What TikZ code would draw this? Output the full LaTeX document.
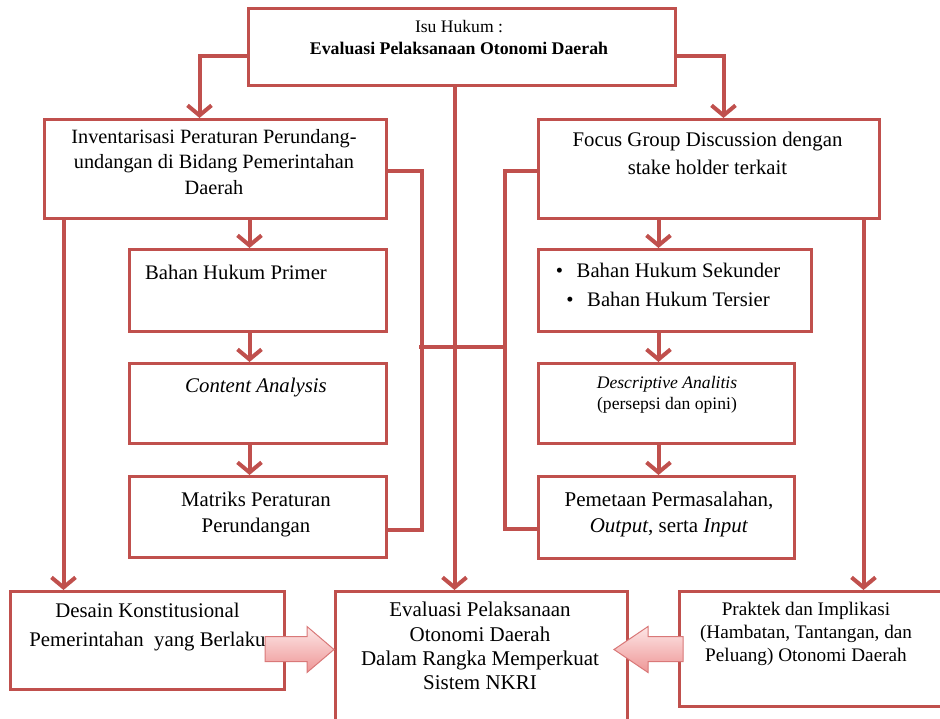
\documentclass[tikz,border=0pt]{standalone}
\usepackage{fontspec}
\setmainfont{Liberation Serif}
\usetikzlibrary{arrows.meta,calc}
\definecolor{linered}{HTML}{C0504D}
\definecolor{arrowtop}{HTML}{FDE6E6}
\definecolor{arrowbot}{HTML}{EE9696}
\definecolor{arrowedge}{HTML}{D97878}
% font size and leading, both given at the drawn size (text nodes are scaled by 1.25)
\newcommand{\fs}[2]{\fontsize{\fpeval{#1/1.25}}{\fpeval{#2/1.25}}\selectfont}

\begin{document}
\begin{tikzpicture}[x=1pt,y=-1pt,
  box/.style={draw=linered, line width=3pt, fill=white, inner sep=0pt, anchor=north west},
  conn/.style={draw=linered, line width=4pt, line join=miter},
  flow/.style={conn, -{Straight Barb[length=10pt,width=24pt]}},
  txt/.style={inner sep=0pt, align=center, anchor=north, text=black, scale=1.25, transform shape},
  blockarrow/.style={top color=arrowtop, bottom color=arrowbot, draw=arrowedge, line width=1pt}
]
\useasboundingbox (0,0) rectangle (940,719);
\clip (0,0) rectangle (940,719);

% boxes
\node[box, minimum width=427, minimum height=77] (isu) at (247,7) {};
\node[box, minimum width=342, minimum height=99] (inv) at (43,118) {};
\node[box, minimum width=341, minimum height=99] (fgd) at (537,118) {};
\node[box, minimum width=257, minimum height=82] (bhp) at (128,248) {};
\node[box, minimum width=257, minimum height=80] (ca) at (128,362) {};
\node[box, minimum width=257, minimum height=81] (mpp) at (128,475) {};
\node[box, minimum width=273, minimum height=82] (bhs) at (537,248) {};
\node[box, minimum width=256, minimum height=80] (da) at (537,362) {};
\node[box, minimum width=256, minimum height=82] (pp) at (537,475) {};
\node[box, minimum width=274, minimum height=98] (dk) at (9,590) {};
\node[box, minimum width=292, minimum height=150] (ev) at (334,590) {};
\node[box, minimum width=282, minimum height=115] (pr) at (678,590) {};

% connectors from the legal issue
\draw[flow] ([yshift=-9.5pt]isu.west) -| ([xshift=-16pt]inv.north);
\draw[flow] ([yshift=-9.5pt]isu.east) -| ([xshift=14.5pt]fgd.north);
\draw[flow] ([xshift=-7.5pt]isu.south) -- ([xshift=-7.5pt]isu.south |- ev.north);

% long side lines
\draw[flow] ([xshift=-152pt]inv.south) -- ([xshift=-152pt]inv.south |- dk.north);
\draw[flow] ([xshift=154.5pt]fgd.south) -- ([xshift=154.5pt]fgd.south |- pr.north);

% left column
\draw[flow] ([xshift=-8.5pt]bhp.north |- inv.south) -- ([xshift=-8.5pt]bhp.north);
\draw[flow] ([xshift=-8.5pt]bhp.south) -- ([xshift=-8.5pt]ca.north);
\draw[flow] ([xshift=-8.5pt]ca.south) -- ([xshift=-8.5pt]mpp.north);

% right column
\draw[flow] ([xshift=-16.5pt]bhs.north |- fgd.south) -- ([xshift=-16.5pt]bhs.north);
\draw[flow] ([xshift=-8pt]da.north |- bhs.south) -- ([xshift=-8pt]da.north);
\draw[flow] ([xshift=-8pt]da.south) -- ([xshift=-8pt]pp.north);

% brackets joined in the middle
\draw[conn] ([yshift=-2.5pt]inv.east) -| ([xshift=34pt,yshift=-12.5pt]mpp.east) -- ([yshift=-12.5pt]mpp.east);
\draw[conn] ([yshift=-2.5pt]fgd.west) -| ([xshift=-32pt,yshift=-11pt]pp.west) -- ([yshift=-11pt]pp.west);
\coordinate (bridgeL) at (419,347);
\coordinate (bridgeR) at (505,347);
\draw[conn] (bridgeL) -- (bridgeR);

% block arrows into the result
\coordinate (tipL) at ([yshift=17pt]ev.west);
\coordinate (tipR) at ([xshift=-15pt,yshift=17pt]ev.east);
\shade[blockarrow] (tipL) -- ++(-27,-23) -- ++(0,10) -- ++(-42,0) -- ++(0,25) -- ++(42,0) -- ++(0,11) -- cycle;
\shade[blockarrow] (tipR) -- ++(34,-23) -- ++(0,10) -- ++(35,0) -- ++(0,25) -- ++(-35,0) -- ++(0,11) -- cycle;

% texts
\node[txt, font=\fs{17.6}{22.2}] (isut) at (459,20) {Isu Hukum :\\{\bfseries\fs{17.8}{22.2}Evaluasi Pelaksanaan Otonomi Daerah}};
\node[txt, font=\fs{20.3}{25.5}] (invt) at (214,129) {Inventarisasi Peraturan Perundang-\\undangan di Bidang Pemerintahan\\Daerah};
\node[txt, font=\fs{20.8}{28}] (fgdt) at (707.5,132) {Focus Group Discussion dengan\\stake holder terkait};
\node[txt, font=\fs{20.7}{25}] (bhpt) at (236,265) {Bahan Hukum Primer};
\node[txt, font=\fs{20.8}{25}\itshape] (cat) at (256,378) {Content Analysis};
\node[txt, font=\fs{20.8}{26}] (mppt) at (256,492) {Matriks Peraturan\\Perundangan};
\node[txt, font=\fs{20.7}{29}] (bhst) at (668,263) {\textbullet\hspace{11pt}Bahan Hukum Sekunder\\\textbullet\hspace{11pt}Bahan Hukum Tersier};
\node[txt, font=\fs{17.6}{21}] (dat) at (667,376) {\textit{Descriptive Analitis}\\(persepsi dan opini)};
\node[txt, font=\fs{21}{25.5}] (ppt) at (669,492) {Pemetaan Permasalahan,\\\textit{Output}, serta \textit{Input}};
\node[txt, font=\fs{20.8}{29}] (dkt) at (147.5,603) {Desain Konstitusional\\Pemerintahan\ \ yang Berlaku};
\node[txt, font=\fs{21}{24.3}] (evt) at (480,602) {Evaluasi Pelaksanaan\\Otonomi Daerah\\Dalam Rangka Memperkuat\\Sistem NKRI};
\node[txt, font=\fs{19.2}{23}] (prt) at (806,602) {Praktek dan Implikasi\\(Hambatan, Tantangan, dan\\Peluang) Otonomi Daerah};
\end{tikzpicture}
\end{document}
